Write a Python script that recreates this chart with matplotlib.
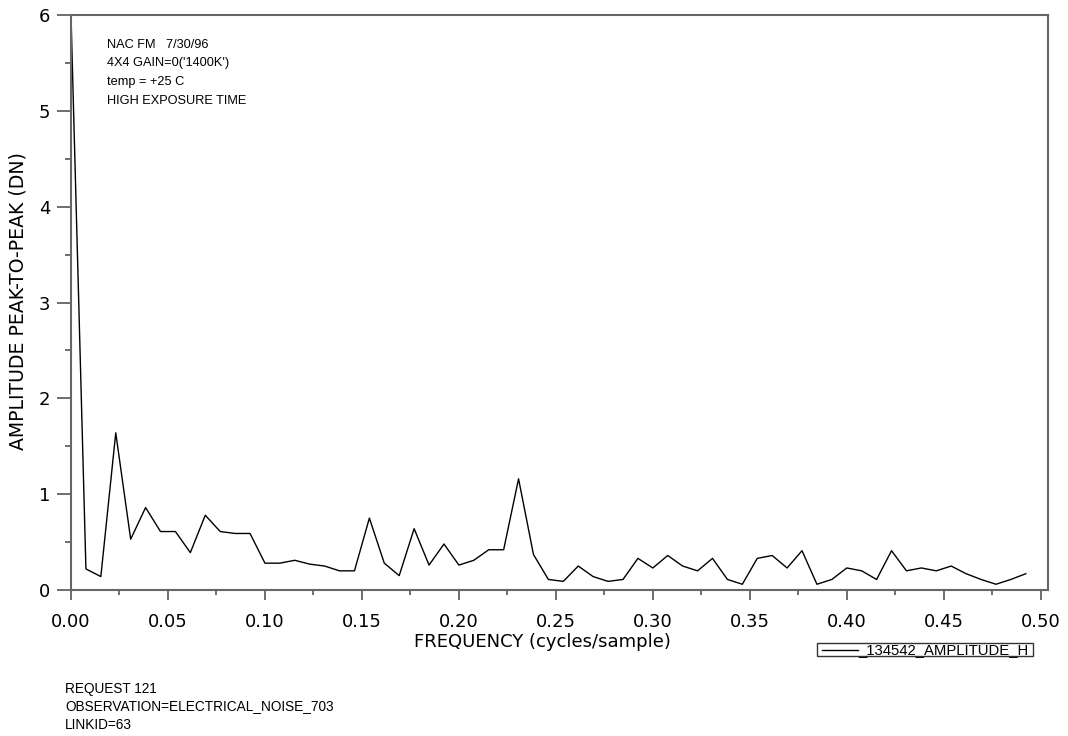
import numpy as np
import matplotlib
matplotlib.use("Agg")
import matplotlib.pyplot as plt
from matplotlib.lines import Line2D
from matplotlib.patches import Rectangle
from matplotlib.ticker import MultipleLocator, FormatStrFormatter

# Spectrum samples: 65 bins from DC up to just below Nyquist
n_bins = 65
frequency = np.arange(n_bins) / 130.0
amplitude = [
    6.00, 0.22, 0.14, 1.64, 0.53, 0.86, 0.61, 0.61, 0.39, 0.78,
    0.61, 0.59, 0.59, 0.28, 0.28, 0.31, 0.27, 0.25, 0.20, 0.20,
    0.75, 0.28, 0.15, 0.64, 0.26, 0.48, 0.26, 0.31, 0.42, 0.42,
    1.16, 0.37, 0.11, 0.09, 0.25, 0.14, 0.09, 0.11, 0.33, 0.23,
    0.36, 0.25, 0.20, 0.33, 0.11, 0.06, 0.33, 0.36, 0.23, 0.41,
    0.06, 0.11, 0.23, 0.20, 0.11, 0.41, 0.20, 0.23, 0.20, 0.25,
    0.17, 0.11, 0.06, 0.11, 0.17,
]

header_lines = ["NAC FM   7/30/96", "4X4 GAIN=0('1400K')", "temp = +25 C", "HIGH EXPOSURE TIME"]
footer_lines = ["REQUEST 121", "OBSERVATION=ELECTRICAL_NOISE_703", "LINKID=63"]
series_name = "_134542_AMPLITUDE_H"
x_title = "FREQUENCY (cycles/sample)"
y_title = "AMPLITUDE PEAK-TO-PEAK (DN)"

W, H = 1068, 736
fig = plt.figure(figsize=(W / 100, H / 100), dpi=100)


def fx(px):
    return px / W


def fy(py):
    return 1 - py / H


ax = fig.add_axes([fx(71), fy(590), fx(1047.5) - fx(71), fy(15) - fy(590)])
ax.plot(frequency, amplitude, color="black", lw=1.0, clip_on=True)

ax.set_xlim(0, 0.5035)
ax.set_ylim(0, 6)

spine_col = "#666666"
for s in ax.spines.values():
    s.set_color(spine_col)
    s.set_linewidth(1.5)

ax.xaxis.set_major_locator(MultipleLocator(0.05))
ax.xaxis.set_minor_locator(MultipleLocator(0.025))
ax.xaxis.set_major_formatter(FormatStrFormatter("%.2f"))
ax.yaxis.set_major_locator(MultipleLocator(1))
ax.yaxis.set_minor_locator(MultipleLocator(0.5))

ax.tick_params(axis="x", which="major", direction="out", length=7.5, width=1.2,
               color="#555555", labelsize=13, pad=9, labelcolor="black")
ax.tick_params(axis="x", which="minor", direction="out", length=3.7, width=1.2, color="#555555")
ax.tick_params(axis="y", which="major", direction="out", length=10, width=1.2,
               color="#555555", labelsize=13, pad=5, labelcolor="black")
ax.tick_params(axis="y", which="minor", direction="out", length=4.5, width=1.2, color="#555555")
ax.tick_params(top=False, right=False)

fig.text(fx(542), fy(642), x_title, fontsize=13, ha="center", va="center",
         family="DejaVu Sans")
fig.text(fx(18), fy(301), y_title, fontsize=13.6, ha="center", va="center",
         rotation=90, family="DejaVu Sans")

# Run notes inside the plot area
for txt, base in zip(header_lines, [47.8, 66.2, 85.5, 103.5]):
    fig.text(fx(107), fy(base), txt, fontsize=9.2, family="Liberation Sans",
             ha="left", va="baseline")

# Request details below the axis
for txt, base in zip(footer_lines, [693, 710, 729]):
    fig.text(fx(65), fy(base), txt, fontsize=9.8, family="Liberation Sans",
             ha="left", va="baseline")

# Series key
fig.patches.append(Rectangle((fx(817), fy(656)), fx(1033) - fx(817), fy(643) - fy(656),
                             transform=fig.transFigure, fill=False,
                             edgecolor="#333333", lw=1.0))
fig.lines.append(Line2D([fx(822), fx(858)], [fy(649.5), fy(649.5)],
                        transform=fig.transFigure, color="black", lw=1.0))
fig.text(fx(858), fy(654.5), series_name, fontsize=10.7, family="Liberation Sans",
         ha="left", va="baseline")

fig.savefig("out.png", dpi=100)
